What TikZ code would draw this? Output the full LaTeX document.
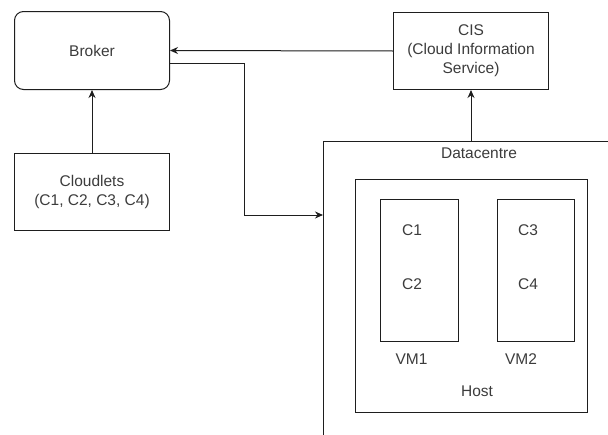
\documentclass[tikz,border=0pt]{standalone}
\usepackage{fontspec}
\setmainfont{Liberation Sans}
\usetikzlibrary{arrows.meta,calc}
\definecolor{txt}{RGB}{60,60,60}
\definecolor{ln}{RGB}{30,30,30}
\begin{document}
\begin{tikzpicture}[x=1pt,y=-1pt,
  box/.style={draw=ln,line width=1pt,inner sep=0pt,anchor=north west,text=txt,align=center,
    font=\fontsize{15.5}{19}\selectfont},
  lbl/.style={text=txt,inner sep=0pt,font=\fontsize{15.5}{19}\selectfont},
  arr/.style={draw=ln,line width=1pt,-{Stealth[length=8pt,width=7pt]}}]
\path[fill=white] (0,0) rectangle (608,434);
\useasboundingbox (0,0) rectangle (608,434);
\clip (0,0) rectangle (608,434);
\node[box,rounded corners=9pt,minimum width=155pt,minimum height=78pt] (broker) at (14,11) {Broker};
\node[box,minimum width=155pt,minimum height=77pt] (cis) at (393,12) {CIS\\(Cloud Information\\Service)};
\node[box,minimum width=155pt,minimum height=77pt] (cl) at (14,153) {Cloudlets\\(C1, C2, C3, C4)};
\node[box,minimum width=340pt,minimum height=340pt] (dc) at (323,140.5) {};
\node[box,minimum width=232pt,minimum height=233pt] (host) at (355,179) {};
\node[box,minimum width=78pt,minimum height=142pt] (vm1) at (380,199) {};
\node[box,minimum width=77pt,minimum height=142pt] (vm2) at (497,199) {};
\node[lbl] (dclbl) at (479,153) {Datacentre};
\node[lbl] (c1) at (412,230) {C1};
\node[lbl] (c2) at (412,284) {C2};
\node[lbl] (c3) at (528,230) {C3};
\node[lbl] (c4) at (528,284) {C4};
\node[lbl] (vm1lbl) at (411.5,359) {VM1};
\node[lbl] (vm2lbl) at (521,359) {VM2};
\node[lbl] (hostlbl) at (477,391) {Host};
\draw[arr] (cl) -- (broker);
\draw[arr] (cis.west) -- (broker.east);
\draw[arr] ([yshift=-13pt]broker.east) -- ++(74,0) |- ([yshift=-74.5pt]dc.north west);
\draw[arr] (cis.south |- dc.north) -- (cis.south);
\end{tikzpicture}
\end{document}
